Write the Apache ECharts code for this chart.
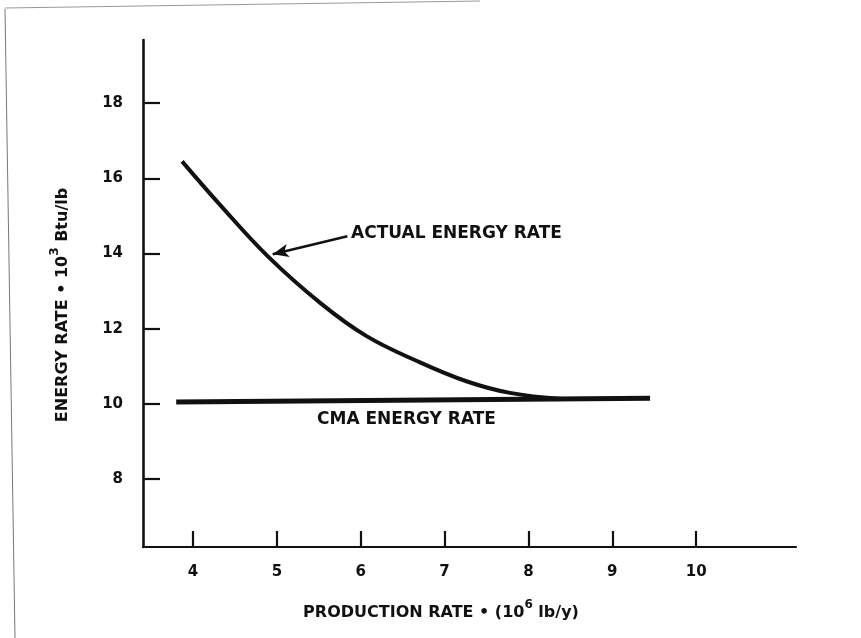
<!DOCTYPE html>
<html>
<head>
<meta charset="utf-8">
<script src="https://cdn.jsdelivr.net/npm/echarts@6/dist/echarts.min.js"></script>
<style>
  html, body { margin: 0; padding: 0; background: #fff; }
  #chart { width: 861px; height: 638px; }
</style>
</head>
<body>
<div id="chart"></div>
<script>
// production rate (10^6 lb/y) vs energy rate (10^3 Btu/lb)
const actualX = [3.87, 4.32, 4.89, 5.52, 6.07, 6.67, 7.26, 7.78, 8.4];
const actualY = [16.45, 15.3, 13.93, 12.68, 11.8, 11.14, 10.6, 10.29, 10.13];
const cmaX = [3.8, 9.45];
const cmaY = [10.05, 10.15];
const arrowFrom = [5.84, 14.46];
const arrowTo = [4.95, 13.98];
const xTicks = [4, 5, 6, 7, 8, 9, 10];
const yTicks = [8, 10, 12, 14, 16, 18];

const ink = "#111";
const font = "DejaVu Sans, Liberation Sans, sans-serif";

const chart = echarts.init(document.getElementById("chart"));
const option = {
  backgroundColor: "#fff",
  animation: false,
  grid: { left: 143, right: 65, top: 40, bottom: 91 },
  xAxis: {
    type: "value",
    min: 3.404,
    max: 11.19,
    splitLine: { show: false },
    axisLine: { lineStyle: { color: ink, width: 2.2 } },
    axisTick: { inside: true, length: 16, customValues: xTicks, lineStyle: { color: ink, width: 2.2 } },
    axisLabel: {
      customValues: xTicks,
      margin: 18,
      color: ink,
      fontFamily: font,
      fontWeight: "bold",
      fontSize: 15
    }
  },
  yAxis: {
    type: "value",
    min: 6.19,
    max: 19.68,
    splitLine: { show: false },
    axisLine: { lineStyle: { color: ink, width: 2.6 } },
    axisTick: { inside: true, length: 17, customValues: yTicks, lineStyle: { color: ink, width: 2.2 } },
    axisLabel: {
      customValues: yTicks,
      margin: 20,
      color: ink,
      fontFamily: font,
      fontWeight: "bold",
      fontSize: 15
    }
  },
  series: [
    {
      name: "ACTUAL ENERGY RATE",
      type: "line",
      smooth: 0.4,
      symbol: "none",
      lineStyle: { color: ink, width: 4 },
      data: actualX.map((x, i) => [x, actualY[i]]),
      markLine: {
        silent: true,
        symbol: ["none", "arrow"],
        symbolSize: [10, 16],
        label: { show: false },
        lineStyle: { color: ink, width: 2.5, type: "solid" },
        data: [[{ coord: arrowFrom }, { coord: arrowTo }]]
      }
    },
    {
      name: "CMA ENERGY RATE",
      type: "line",
      symbol: "none",
      lineStyle: { color: ink, width: 5 },
      data: cmaX.map((x, i) => [x, cmaY[i]])
    }
  ],
  graphic: [
    // scan frame edges
    { type: "line", shape: { x1: 5, y1: 9, x2: 15, y2: 638 }, style: { stroke: "#777", lineWidth: 1 } },
    { type: "line", shape: { x1: 5, y1: 8, x2: 480, y2: 1 }, style: { stroke: "#999", lineWidth: 1.2 } },
    {
      type: "text", x: 351, y: 234,
      style: { text: "ACTUAL ENERGY RATE", fill: ink, font: "bold 17px " + font, verticalAlign: "middle" }
    },
    {
      type: "text", x: 317, y: 420,
      style: { text: "CMA ENERGY RATE", fill: ink, font: "bold 17px " + font, verticalAlign: "middle" }
    },
    {
      type: "text", x: 441, y: 610,
      style: {
        text: "{t|PRODUCTION RATE • (10}{s|6}{t| lb/y)}",
        align: "center",
        verticalAlign: "middle",
        fill: ink,
        rich: {
          t: { fontFamily: font, fontWeight: "bold", fontSize: 16, fill: ink, lineHeight: 22, verticalAlign: "bottom" },
          s: { fontFamily: font, fontWeight: "bold", fontSize: 12, fill: ink, lineHeight: 22, verticalAlign: "top" }
        }
      }
    },
    {
      type: "text", x: 60, y: 305, rotation: Math.PI / 2,
      style: {
        text: "{t|ENERGY RATE • 10}{s|3}{t| Btu/lb}",
        align: "center",
        verticalAlign: "middle",
        fill: ink,
        rich: {
          t: { fontFamily: font, fontWeight: "bold", fontSize: 16, fill: ink, lineHeight: 22, verticalAlign: "bottom" },
          s: { fontFamily: font, fontWeight: "bold", fontSize: 12, fill: ink, lineHeight: 22, verticalAlign: "top" }
        }
      }
    }
  ]
};
chart.setOption(option);
</script>
</body>
</html>
